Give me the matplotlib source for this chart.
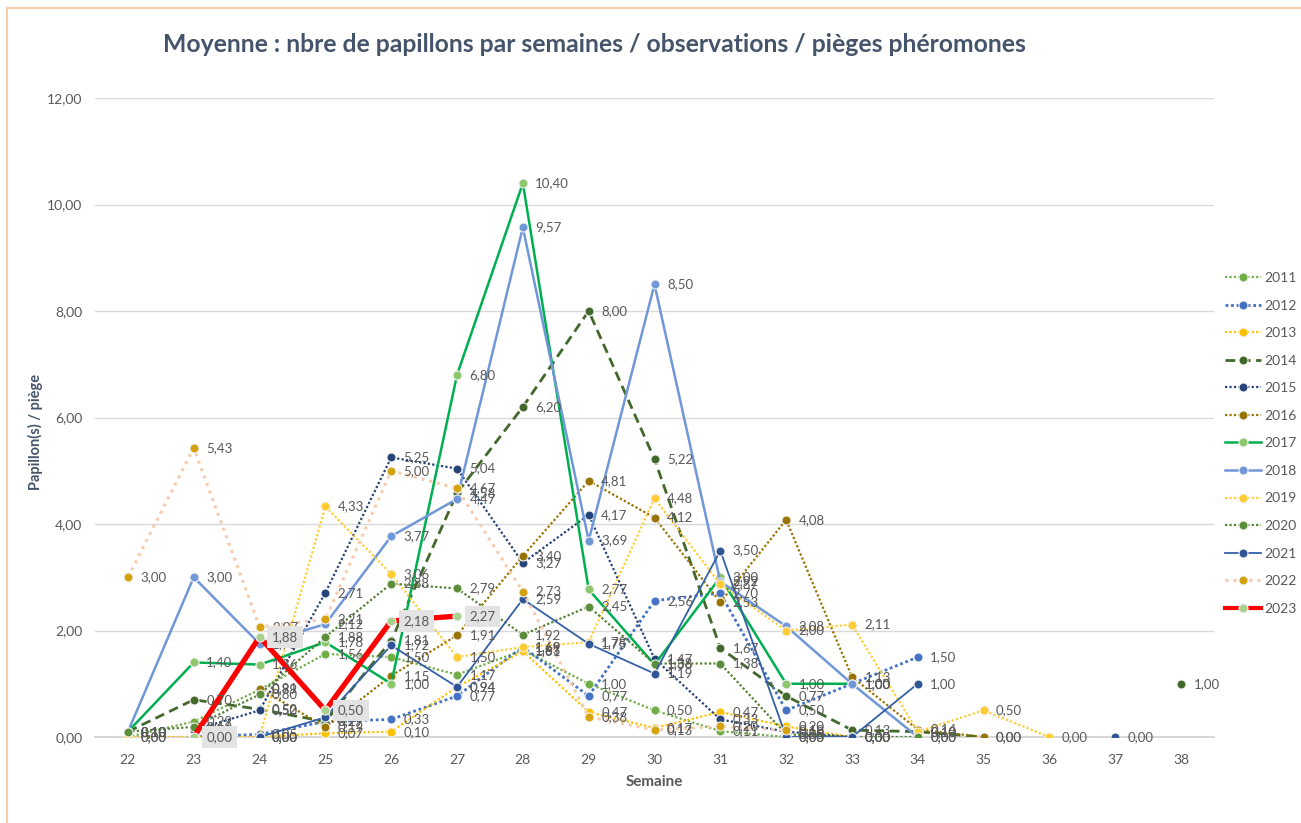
import numpy as np
import matplotlib
matplotlib.use("Agg")
import matplotlib.pyplot as plt
from matplotlib.patches import Rectangle
from matplotlib.lines import Line2D

N = None
weeks = list(range(22, 39))

y2011 = [0.00, 0.29, 0.89, 1.56, 1.50, 1.17, 1.63, 1.00, 0.50, 0.11, 0.00, N, N, N, N, N, N]
y2012 = [N, 0.00, 0.05, 0.29, 0.33, 0.77, 1.69, 0.77, 2.56, 2.70, 0.50, 1.00, 1.50, N, N, N, N]
y2013 = [0.00, 0.00, 0.00, 0.07, 0.10, 0.94, 1.61, 0.47, 0.17, 0.47, 0.20, 0.00, N, N, N, N, N]
y2014 = [0.10, 0.70, 0.52, 0.29, 1.81, 4.58, 6.20, 8.00, 5.22, 1.67, 0.77, 0.13, 0.10, 0.00, N, N, 1.00]
y2015 = [N, 0.13, 0.50, 2.71, 5.25, 5.04, 3.27, 4.17, 1.47, 0.33, 0.10, 0.00, N, N, N, N, N]
y2016 = [N, N, 0.91, 0.19, 1.15, 1.91, 3.40, 4.81, 4.12, 2.53, 4.08, 1.13, 0.14, 0.00, N, N, N]
y2017 = [0.10, 1.40, 1.36, 1.78, 1.00, 6.80, 10.40, 2.77, 1.36, 3.00, 1.00, 1.00, N, N, N, N, N]
y2018 = [0.10, 3.00, 1.75, 2.12, 3.77, 4.47, 9.57, 3.69, 8.50, 2.92, 2.08, 1.00, 0.00, N, N, N, N]
y2019 = [N, N, 0.00, 4.33, 3.06, 1.50, 1.69, 1.78, 4.48, 2.87, 2.00, 2.11, 0.10, 0.50, 0.00, N, N]
y2020 = [0.10, 0.19, 0.80, 1.88, 2.88, 2.79, 1.92, 2.45, 1.38, 1.38, 0.05, 0.00, 0.00, N, N, N, N]
y2021 = [N, N, 0.00, 0.37, 1.72, 0.94, 2.59, 1.75, 1.19, 3.50, 0.00, 0.00, 1.00, N, N, 0.00, N]
y2022 = [3.00, 5.43, 2.07, 2.21, 5.00, 4.67, 2.73, 0.38, 0.13, 0.20, 0.13, N, N, N, N, N, N]
y2023 = [N, 0.00, 1.88, 0.50, 2.18, 2.27, N, N, N, N, N, N, N, N, N, N, N]

years = ["2011", "2012", "2013", "2014", "2015", "2016", "2017",
         "2018", "2019", "2020", "2021", "2022", "2023"]
values = [y2011, y2012, y2013, y2014, y2015, y2016, y2017,
          y2018, y2019, y2020, y2021, y2022, y2023]

dot = (0, (1, 1))
styles = {
    "2011": dict(lc="#70AD47", mc="#70AD47", ls=dot, lw=1.6),
    "2012": dict(lc="#4472C4", mc="#4472C4", ls=dot, lw=2.0),
    "2013": dict(lc="#FFC000", mc="#FFC000", ls=dot, lw=1.6),
    "2014": dict(lc="#43682B", mc="#43682B", ls=(0, (3.5, 2)), lw=2.0),
    "2015": dict(lc="#264478", mc="#264478", ls=dot, lw=1.6),
    "2016": dict(lc="#997300", mc="#997300", ls=dot, lw=1.6),
    "2017": dict(lc="#00B050", mc="#8CC76B", ls="-", lw=1.8),
    "2018": dict(lc="#7097D8", mc="#7097D8", ls="-", lw=1.8),
    "2019": dict(lc="#FFCD33", mc="#FFCD33", ls=dot, lw=1.6),
    "2020": dict(lc="#548235", mc="#5B8E3A", ls=dot, lw=1.6),
    "2021": dict(lc="#3560A8", mc="#2F5597", ls="-", lw=1.3),
    "2022": dict(lc="#F8CBAD", mc="#D4A20C", ls=(0, (1, 1.6)), lw=2.2),
    "2023": dict(lc="#FF0000", mc="#A9D18E", ls="-", lw=3.8),
}

plt.rcParams['font.family'] = ['Lato', 'DejaVu Sans']
W, H = 1301, 823
fig = plt.figure(figsize=(W / 100, H / 100), dpi=100)
ax = fig.add_axes([95 / W, 1 - 737 / H, (1214 - 95) / W, (737 - 98) / H])

label_col = "#595959"
x = np.array(weeks, dtype=float)
handles = []
for i, (yr, vals) in enumerate(zip(years, values)):
    st = styles[yr]
    yv = np.array([np.nan if v is None else v for v in vals], dtype=float)
    z = 3 + i * 0.1
    ax.plot(x, yv, color=st["lc"], ls=st["ls"], lw=st["lw"], zorder=z,
            solid_capstyle="round")
    ax.plot(x, yv, ls="none", marker="o", ms=6.5, mfc=st["mc"], mec="#F2F2F2",
            mew=0.8, zorder=z + 0.05)
    for xi, v in zip(x, yv):
        if np.isnan(v):
            continue
        txt = f"{v:.2f}".replace(".", ",")
        kw = {}
        if yr == "2023":
            kw["bbox"] = dict(boxstyle="square,pad=0.35", fc="#E3E3E3", ec="none")
        ax.annotate(txt, (xi, v), xytext=(9, 0), textcoords="offset points",
                    ha="left", va="center", fontsize=9.5, color=label_col,
                    zorder=10 + i * 0.1, **kw)
    handles.append(Line2D([0], [0], color=st["lc"], ls=st["ls"], lw=min(st["lw"], 3.0),
                          marker="o", ms=6.5, mfc=st["mc"], mec="#F2F2F2", mew=0.8))

ax.set_xlim(21.5, 38.5)
ax.set_ylim(0, 12)
ax.set_xticks(weeks)
ax.set_xticklabels([str(w) for w in weeks])
ax.set_yticks(np.arange(0, 13, 2))
ax.set_yticklabels([f"{v:.2f}".replace(".", ",") for v in np.arange(0, 13, 2)])
ax.tick_params(axis="both", length=0, labelsize=10, colors=label_col)
ax.tick_params(axis="y", pad=9)
ax.tick_params(axis="x", pad=12)
ax.grid(axis="y", color="#D9D9D9", lw=1.0, zorder=0)
ax.set_axisbelow(True)
for s in ["top", "right", "left"]:
    ax.spines[s].set_visible(False)
ax.spines["bottom"].set_color("#D0D0D0")
ax.spines["bottom"].set_linewidth(1.2)

ax.set_xlabel("Semaine", fontsize=11, fontweight="bold", color=label_col, labelpad=7)
fig.text(35 / W, 1 - 432 / H, "Papillon(s) / piège", rotation=90, ha="center",
         va="center", fontsize=10.5, fontweight="bold", color="#44546A")

fig.text(594 / W, 1 - 45 / H,
         "Moyenne : nbre de papillons par semaines / observations / pièges phéromones",
         ha="center", va="center", fontsize=17.8, fontweight="bold", color="#44546A")

leg = fig.legend(handles, years, loc="upper left",
                 bbox_to_anchor=(1218 / W, 1 - 265 / H), frameon=False,
                 fontsize=10, labelcolor=label_col, handlelength=2.6,
                 handletextpad=0.25, labelspacing=1.12, borderpad=0, numpoints=1)

fig.add_artist(Rectangle((7 / W, -0.1), 2, (823 - 8) / H + 0.1, transform=fig.transFigure,
                         fill=False, ec="#F8CBAD", lw=1.5))

fig.savefig("out.png", dpi=100)
